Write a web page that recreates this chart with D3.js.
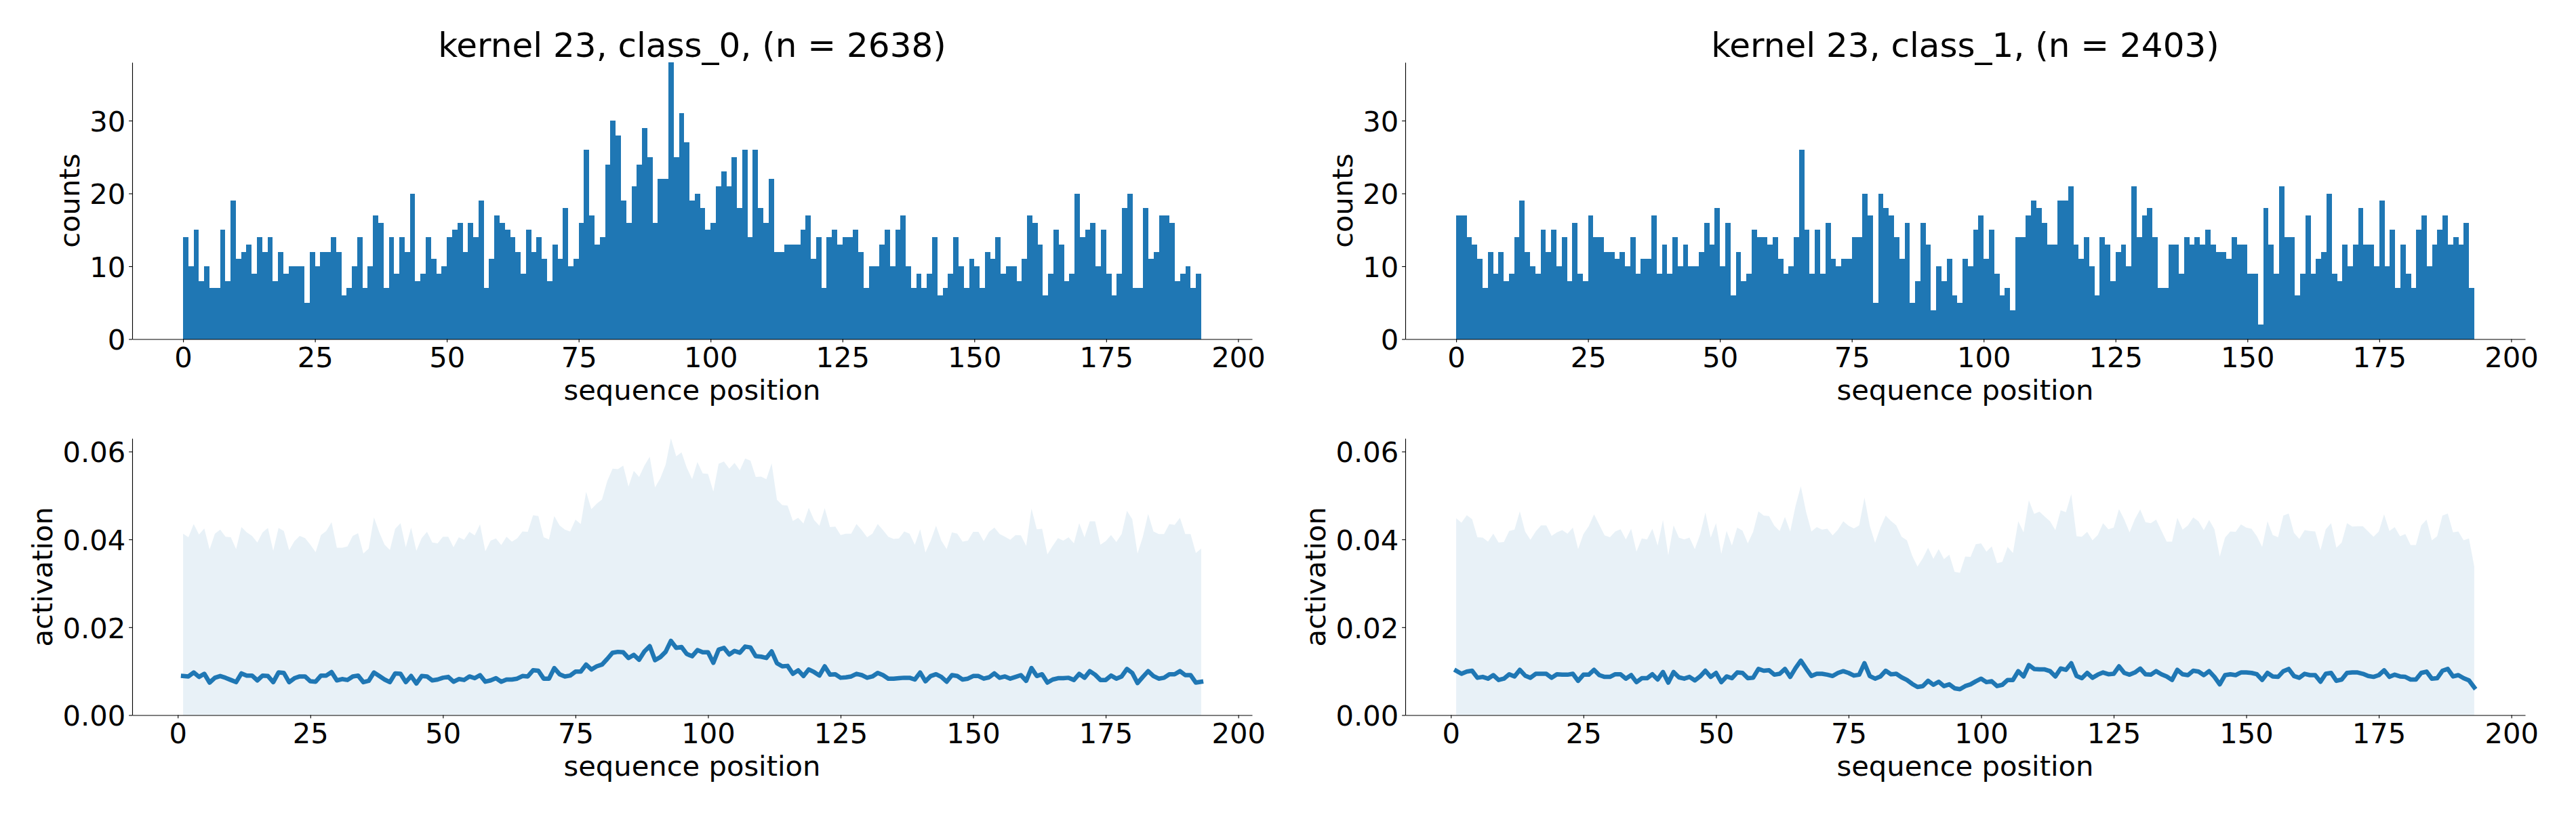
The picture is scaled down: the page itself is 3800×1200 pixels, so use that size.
<!DOCTYPE html>
<html><head><meta charset="utf-8">
<script src="https://cdn.jsdelivr.net/npm/d3@7"></script>
<style>
html,body{margin:0;padding:0;background:#fff;}
svg{display:block;}
</style>
</head><body>
<svg id="chart" width="3800" height="1200"></svg>
<script>
// ---------------- data ----------------
const kernelId = 23;
const classNames = ["class_0", "class_1"];
const sampleCounts = [2638, 2403];

// histogram counts per sequence position bin [i, i+1)
const countsClass0 = [14,10,15,8,10,7,7,15,8,19, 11,12,13,9,14,12,14,8,12,9, 10,10,10,5,12,10,12,12,14,12,
  6,7,10,14,7,10,17,16,7,14, 9,14,12,20,8,9,14,11,9,10, 14,15,16,12,16,14,19,7,11,17,
  16,15,14,12,9,15,12,14,11,8, 13,11,18,10,11,16,26,17,13,14, 24,30,28,19,16,21,24,29,25,16,
  22,22,38,25,31,27,19,20,18,15, 16,21,23,21,25,18,26,14,26,18, 16,22,12,12,13,13,13,15,17,11,
  14,7,14,15,13,14,14,15,12,7, 10,10,13,15,10,15,17,10,7,9, 7,9,14,6,7,9,14,10,7,11,
  10,7,12,11,14,9,10,10,8,11, 17,16,13,6,9,15,13,8,9,20, 14,15,16,10,15,9,6,9,18,20,
  7,7,18,11,12,17,17,16,8,9, 10,7,9];
const countsClass1 = [17,17,14,13,11,7,12,9,12,8, 9,14,19,12,10,9,15,12,15,10, 14,8,16,9,8,17,14,14,12,12,
  11,12,10,14,9,11,11,17,9,13, 9,14,10,13,10,10,12,16,13,18, 10,16,6,12,8,9,15,14,14,13,
  14,11,9,10,14,26,15,9,15,9, 16,11,10,11,11,14,14,20,17,5, 20,18,17,14,11,16,5,8,16,13,
  4,10,8,11,6,5,11,10,15,17, 11,15,9,6,7,4,14,14,17,19, 18,16,13,13,19,19,21,13,11,14,
  10,6,14,13,8,12,13,10,21,14, 17,18,14,7,7,13,13,9,14,13, 14,13,15,13,12,12,11,14,13,13,
  9,9,2,18,13,9,21,14,14,6, 9,17,9,11,12,20,9,8,13,10, 13,18,13,13,10,19,10,15,7,13,
  9,7,15,17,10,13,15,17,13,14, 13,16,7];

// mean activation and upper band, positions 1..193
const meanClass0 = [.0089,.0088,.0097,.0087,.0094,.0074,.0085,.0089,.0085,.0080,
  .0075,.0095,.0090,.0090,.0079,.0090,.0089,.0075,.0097,.0096,
  .0075,.0084,.0088,.0088,.0077,.0076,.0090,.0090,.0098,.0079,
  .0082,.0080,.0088,.0090,.0075,.0078,.0097,.0089,.0081,.0075,
  .0095,.0094,.0075,.0089,.0072,.0089,.0088,.0079,.0081,.0085,
  .0087,.0076,.0082,.0080,.0088,.0084,.0091,.0076,.0079,.0084,
  .0076,.0081,.0081,.0083,.0089,.0088,.0102,.0101,.0083,.0083,
  .0107,.0093,.0088,.0090,.0099,.0099,.0115,.0104,.0111,.0115,
  .0128,.0142,.0144,.0143,.0130,.0137,.0126,.0145,.0157,.0125,
  .0132,.0144,.0169,.0153,.0155,.0139,.0134,.0148,.0143,.0143,
  .0119,.0149,.0153,.0138,.0146,.0142,.0156,.0154,.0134,.0133,
  .0130,.0145,.0118,.0111,.0112,.0094,.0102,.0089,.0104,.0098,
  .0090,.0111,.0092,.0093,.0085,.0086,.0088,.0094,.0091,.0085,
  .0088,.0096,.0091,.0083,.0083,.0084,.0085,.0085,.0081,.0097,
  .0077,.0089,.0093,.0087,.0076,.0091,.0089,.0081,.0083,.0089,
  .0089,.0083,.0086,.0095,.0085,.0088,.0083,.0087,.0091,.0078,
  .0107,.0089,.0093,.0074,.0081,.0084,.0084,.0085,.0080,.0094,
  .0085,.0100,.0092,.0080,.0080,.0090,.0083,.0088,.0105,.0096,
  .0073,.0087,.0100,.0089,.0083,.0085,.0093,.0093,.0100,.0091,
  .0091,.0074,.0076];
const upperClass0 = [.0413,.0405,.0435,.0411,.0425,.0377,.0413,.0422,.0406,.0405,
  .0378,.0428,.0416,.0408,.0393,.0416,.0426,.0374,.0426,.0419,
  .0375,.0396,.0408,.0403,.0388,.0371,.0410,.0419,.0439,.0381,
  .0381,.0384,.0408,.0414,.0368,.0379,.0450,.0416,.0388,.0376,
  .0424,.0437,.0382,.0427,.0374,.0403,.0417,.0393,.0391,.0406,
  .0406,.0382,.0405,.0399,.0417,.0409,.0434,.0373,.0397,.0402,
  .0387,.0406,.0395,.0402,.0418,.0417,.0455,.0453,.0405,.0400,
  .0453,.0432,.0422,.0418,.0445,.0435,.0508,.0469,.0481,.0491,
  .0533,.0561,.0560,.0568,.0520,.0556,.0542,.0568,.0588,.0518,
  .0539,.0570,.0630,.0589,.0598,.0563,.0537,.0576,.0550,.0549,
  .0509,.0572,.0577,.0561,.0574,.0557,.0584,.0579,.0542,.0543,
  .0537,.0573,.0490,.0478,.0477,.0442,.0449,.0436,.0472,.0444,
  .0431,.0471,.0428,.0429,.0410,.0413,.0413,.0435,.0421,.0405,
  .0413,.0435,.0421,.0406,.0401,.0402,.0418,.0413,.0388,.0423,
  .0370,.0397,.0431,.0397,.0378,.0416,.0413,.0395,.0397,.0417,
  .0417,.0396,.0417,.0427,.0412,.0406,.0399,.0410,.0409,.0385,
  .0470,.0423,.0424,.0366,.0385,.0403,.0397,.0405,.0391,.0437,
  .0405,.0441,.0441,.0388,.0396,.0410,.0394,.0412,.0465,.0446,
  .0368,.0406,.0458,.0418,.0412,.0412,.0435,.0433,.0449,.0412,
  .0412,.0369,.0379];
const meanClass1 = [.0101,.0094,.0099,.0101,.0085,.0087,.0083,.0091,.0080,.0083,
  .0093,.0088,.0103,.0090,.0085,.0094,.0094,.0094,.0085,.0093,
  .0092,.0092,.0094,.0078,.0092,.0092,.0103,.0091,.0087,.0087,
  .0093,.0093,.0083,.0091,.0075,.0084,.0084,.0093,.0081,.0098,
  .0074,.0098,.0086,.0083,.0087,.0079,.0088,.0101,.0087,.0096,
  .0075,.0088,.0084,.0097,.0096,.0084,.0085,.0105,.0101,.0102,
  .0092,.0094,.0105,.0087,.0107,.0124,.0106,.0089,.0094,.0094,
  .0092,.0089,.0096,.0100,.0096,.0090,.0092,.0118,.0089,.0083,
  .0088,.0101,.0093,.0094,.0086,.0080,.0071,.0064,.0066,.0078,
  .0069,.0076,.0066,.0070,.0061,.0059,.0066,.0070,.0077,.0083,
  .0075,.0077,.0066,.0069,.0080,.0080,.0100,.0088,.0114,.0105,
  .0104,.0104,.0100,.0088,.0106,.0103,.0118,.0089,.0084,.0096,
  .0085,.0092,.0097,.0093,.0094,.0111,.0096,.0092,.0097,.0106,
  .0093,.0092,.0100,.0093,.0088,.0080,.0103,.0093,.0091,.0101,
  .0099,.0091,.0100,.0087,.0070,.0091,.0093,.0091,.0097,.0097,
  .0096,.0093,.0080,.0096,.0088,.0087,.0100,.0105,.0089,.0085,
  .0094,.0091,.0091,.0076,.0094,.0096,.0078,.0081,.0096,.0097,
  .0097,.0094,.0089,.0087,.0091,.0102,.0087,.0092,.0088,.0087,
  .0081,.0081,.0096,.0099,.0083,.0084,.0101,.0105,.0088,.0091,
  .0084,.0079,.0063];
const upperClass1 = [.0448,.0438,.0455,.0446,.0405,.0404,.0395,.0413,.0393,.0394,
  .0419,.0422,.0464,.0418,.0399,.0418,.0432,.0432,.0408,.0416,
  .0421,.0413,.0427,.0378,.0412,.0430,.0457,.0433,.0409,.0405,
  .0418,.0423,.0400,.0424,.0372,.0402,.0400,.0424,.0386,.0444,
  .0364,.0432,.0404,.0400,.0404,.0378,.0411,.0461,.0404,.0437,
  .0367,.0419,.0386,.0427,.0420,.0391,.0417,.0464,.0454,.0453,
  .0431,.0419,.0451,.0418,.0476,.0521,.0462,.0418,.0428,.0422,
  .0424,.0409,.0422,.0441,.0431,.0425,.0432,.0495,.0431,.0392,
  .0427,.0454,.0442,.0432,.0406,.0398,.0363,.0338,.0357,.0381,
  .0356,.0378,.0355,.0365,.0326,.0324,.0361,.0360,.0389,.0391,
  .0372,.0384,.0346,.0349,.0383,.0369,.0441,.0416,.0489,.0458,
  .0463,.0452,.0441,.0421,.0466,.0462,.0503,.0407,.0406,.0417,
  .0398,.0410,.0437,.0423,.0427,.0469,.0445,.0416,.0446,.0468,
  .0439,.0437,.0445,.0420,.0395,.0395,.0449,.0422,.0432,.0450,
  .0441,.0421,.0444,.0423,.0361,.0404,.0418,.0417,.0434,.0427,
  .0424,.0407,.0383,.0441,.0410,.0405,.0454,.0459,.0415,.0401,
  .0421,.0419,.0418,.0375,.0423,.0437,.0381,.0393,.0437,.0429,
  .0430,.0430,.0418,.0406,.0418,.0457,.0419,.0428,.0407,.0412,
  .0387,.0387,.0432,.0445,.0398,.0407,.0454,.0459,.0416,.0418,
  .0398,.0402,.0338];

const xTicks = [0, 25, 50, 75, 100, 125, 150, 175, 200];
const countTicks = [0, 10, 20, 30];
const activationTicks = [0, 0.02, 0.04, 0.06];
const xLabelText = "sequence position";
const countLabelText = "counts";
const activationLabelText = "activation";

// ---------------- layout / style ----------------
const FONT = "DejaVu Sans";
const FS = 41.67;       // base font size (px)
const TITLE_FS = 50;
const TICK_LEN = 4.86, TICK_PAD = 4.86, SPINE_W = 1.11;
const BLUE = "#1f77b4";
const cols = [[195, 1847], [2073, 3725]];
const rows = [[92, 500.5], [647, 1055.5]];

const svg = d3.select("#chart");
svg.append("rect").attr("width", 3800).attr("height", 1200).attr("fill", "#fff");

const countMax = d3.max([d3.max(countsClass0), d3.max(countsClass1)]);
const actMax = d3.max([d3.max(upperClass0), d3.max(upperClass1)]);

function styleAxis(g) {
  g.attr("font-size", null).attr("font-family", null);
  g.selectAll("path, line").attr("stroke", "#000").attr("stroke-width", SPINE_W);
  g.selectAll("text").attr("font-family", FONT).attr("font-size", FS).attr("fill", "#000");
}

function drawAxes(g, xs, ys, yTicks, yFmt, yLabel, yLabelX) {
  const [yb, yt] = ys.range();
  const gx = g.append("g").attr("transform", `translate(0,${yb})`)
    .call(d3.axisBottom(xs).tickValues(xTicks).tickSize(TICK_LEN).tickPadding(TICK_PAD).tickSizeOuter(0).tickFormat(d3.format("d")));
  styleAxis(gx);
  gx.selectAll(".tick text").attr("dy", null).attr("y", 41.2);
  const gy = g.append("g").attr("transform", `translate(${xs.range()[0]},0)`)
    .call(d3.axisLeft(ys).tickValues(yTicks).tickSize(TICK_LEN).tickPadding(TICK_PAD).tickSizeOuter(0).tickFormat(yFmt));
  styleAxis(gy);
  gy.selectAll(".tick text").attr("dy", "0.365em");
  const [xl, xr] = xs.range();
  g.append("text").attr("x", (xl + xr) / 2).attr("y", yb + 89.5)
    .attr("text-anchor", "middle").attr("font-family", FONT).attr("font-size", FS).text(xLabelText);
  g.append("text").attr("transform", `translate(${xl - yLabelX},${(yb + yt) / 2}) rotate(-90)`)
    .attr("text-anchor", "middle").attr("font-family", FONT).attr("font-size", FS).text(yLabel);
}

function histPanel(col, counts, title) {
  const [x0, x1] = cols[col], [y0, y1] = rows[0];
  const n = counts.length;
  const xs = d3.scaleLinear().domain([0 - 0.05 * n, n + 0.05 * n]).range([x0, x1]);
  const ys = d3.scaleLinear().domain([0, countMax]).range([y1, y0]);
  const g = svg.append("g");
  g.append("g").attr("shape-rendering", "crispEdges").selectAll("rect").data(counts).join("rect")
    .attr("x", (d, i) => xs(i)).attr("width", (d, i) => xs(i + 1) - xs(i))
    .attr("y", d => ys(d)).attr("height", d => ys(0) - ys(d)).attr("fill", BLUE);
  drawAxes(g, xs, ys, countTicks, d3.format("d"), countLabelText, 78.1);
  g.append("text").attr("x", (x0 + x1) / 2).attr("y", y0 - 8.3).attr("text-anchor", "middle")
    .attr("font-family", FONT).attr("font-size", TITLE_FS).text(title);
}

function activationPanel(col, mean, upper) {
  const [x0, x1] = cols[col], [y0, y1] = rows[1];
  const n = mean.length;
  const first = 1, last = n;
  const span = last - first;
  const xs = d3.scaleLinear().domain([first - 0.05 * span, last + 0.05 * span]).range([x0, x1]);
  const ys = d3.scaleLinear().domain([0, actMax]).range([y1, y0]);
  const g = svg.append("g");
  const area = d3.area().x((d, i) => xs(i + 1)).y0(ys(0)).y1(d => ys(d));
  g.append("path").datum(upper).attr("d", area).attr("fill", BLUE).attr("fill-opacity", 0.1);
  const line = d3.line().x((d, i) => xs(i + 1)).y(d => ys(d));
  g.append("path").datum(mean).attr("d", line).attr("fill", "none").attr("stroke", BLUE)
    .attr("stroke-width", 6.5).attr("stroke-linejoin", "round").attr("stroke-linecap", "square");
  drawAxes(g, xs, ys, activationTicks, d3.format(".2f"), activationLabelText, 117.8);
}

histPanel(0, countsClass0, `kernel ${kernelId}, ${classNames[0]}, (n = ${sampleCounts[0]})`);
histPanel(1, countsClass1, `kernel ${kernelId}, ${classNames[1]}, (n = ${sampleCounts[1]})`);
activationPanel(0, meanClass0, upperClass0);
activationPanel(1, meanClass1, upperClass1);
</script>
</body></html>
